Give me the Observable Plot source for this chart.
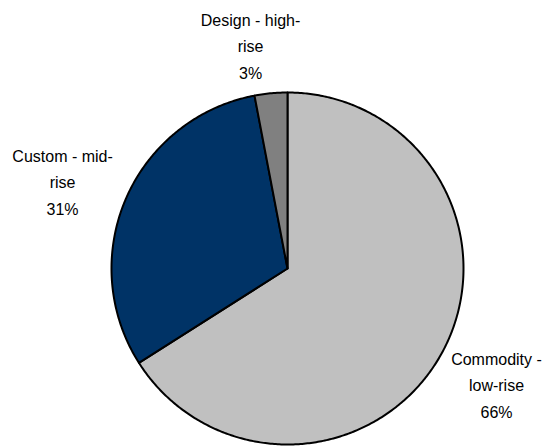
<!DOCTYPE html>
<html>
<head>
<meta charset="utf-8">
<script src="https://cdn.jsdelivr.net/npm/d3@7"></script>
<script src="https://cdn.jsdelivr.net/npm/@observablehq/plot@0.6"></script>
<style>
  html, body { margin: 0; padding: 0; background: #fff; }
  #chart svg { display: block; }
</style>
</head>
<body>
<div id="chart"></div>
<script>
// ---- data ----
const categories = ["Commodity - low-rise", "Custom - mid-rise", "Design - high-rise"];
const labelTexts = ["Commodity -\nlow-rise\n66%", "Custom - mid-\nrise\n31%", "Design - high-\nrise\n3%"];
const shares = [66, 31, 3];
const colors = ["#C0C0C0", "#003366", "#808080"];
// label anchor positions in pie-radius units (layout)
const labelX = [1.1875, -1.278, -0.21];
const labelY = [-0.65, 0.503, 1.276];

// ---- slice geometry from values ----
const arcs = d3.pie().sort(null).value(d => d)(shares);
const slicePts = [];
arcs.forEach((a, i) => {
  const name = categories[i];
  slicePts.push({name, x: 0, y: 0});
  const n = Math.max(2, Math.ceil((a.endAngle - a.startAngle) / 0.01));
  for (let k = 0; k <= n; k++) {
    const t = a.startAngle + (a.endAngle - a.startAngle) * k / n;
    slicePts.push({name, x: Math.sin(t), y: Math.cos(t)});
  }
  slicePts.push({name, x: 0, y: 0});
});
const labels = categories.map((c, i) => ({name: c, text: labelTexts[i], x: labelX[i], y: labelY[i]}));

const chart = Plot.plot({
  width: 543,
  height: 447,
  margin: 0,
  x: {domain: [-1, 1], range: [111, 463], axis: null},
  y: {domain: [-1, 1], range: [444, 92], axis: null},
  color: {domain: categories, range: colors},
  style: {fontFamily: "'Liberation Sans', Arial, sans-serif", background: "#fff"},
  marks: [
    Plot.line(slicePts, {x: "x", y: "y", z: "name", fill: "name", stroke: "#000", strokeWidth: 2, strokeLinejoin: "round", curve: "linear"}),
    Plot.text(labels, {x: "x", y: "y", text: "text", fontSize: 16, lineHeight: 1.656, textAnchor: "middle", fill: "#000"})
  ]
});
document.getElementById("chart").appendChild(chart);
</script>
</body>
</html>
